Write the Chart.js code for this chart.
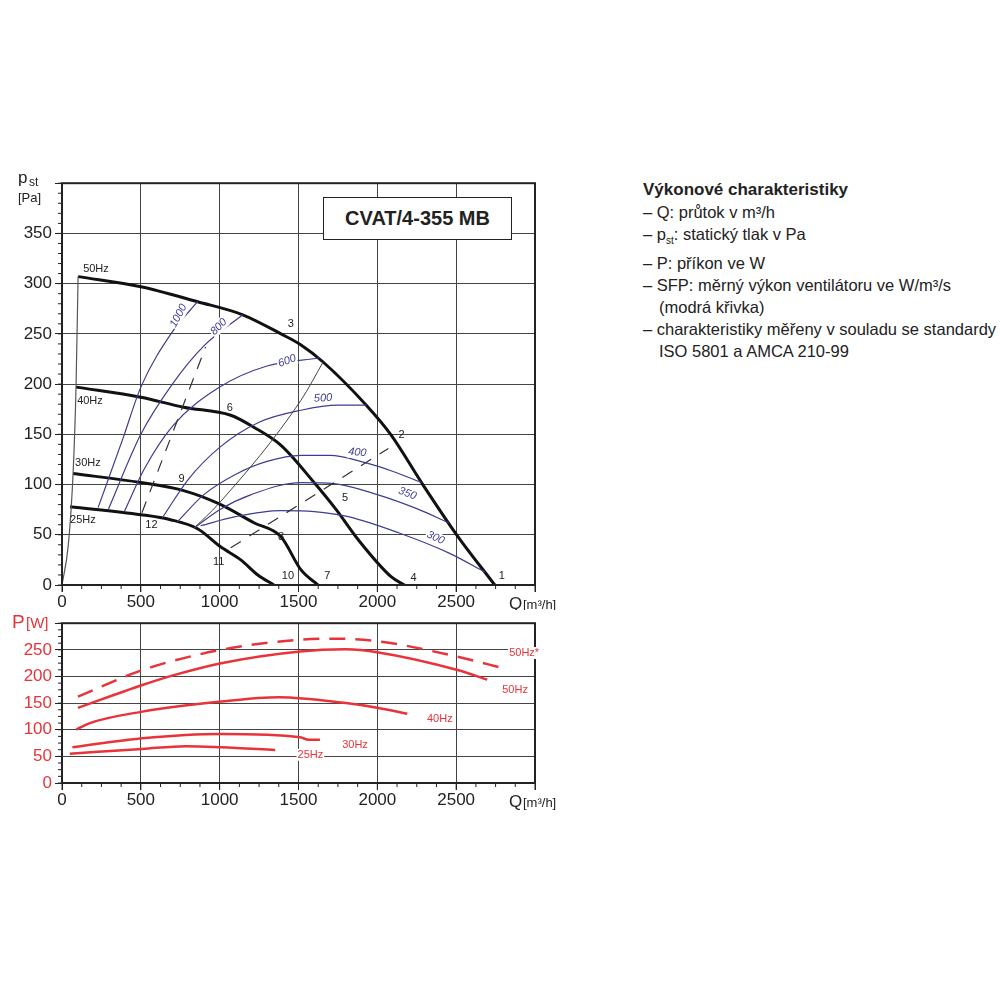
<!DOCTYPE html>
<html>
<head>
<meta charset="utf-8">
<script src="https://cdn.jsdelivr.net/npm/chart.js@4"></script>
<style>
  body { margin:0; background:#fff; font-family:"Liberation Sans", Arial, sans-serif; }
  .wrap { position:relative; width:1000px; height:1000px; }
  canvas { position:absolute; }
  #c1 { left:0; top:170px; }
  #c2 { left:0; top:610px; }
  .model { position:absolute; left:323px; top:197px; width:187px; height:41px; border:1.5px solid #222; background:#fff;
           font-weight:bold; font-size:20px; line-height:41px; text-align:center; color:#222; }
  .info { position:absolute; left:643px; top:178px; font-size:16.5px; color:#222; line-height:22px; }
  .info b { font-size:17px; }
  .info div { padding-left:16px; text-indent:-16px; }
</style>
</head>
<body>
<div class="wrap">
  <canvas id="c1" width="560" height="440" style="width:560px;height:440px"></canvas>
  <canvas id="c2" width="580" height="210" style="width:580px;height:210px"></canvas>
  <div class="model">CVAT/4-355 MB</div>
  <div class="info">
    <b>Výkonové charakteristiky</b>
    <div>– Q: průtok v m³/h</div>
    <div>– p<sub style="font-size:10px">st</sub>: statický tlak v Pa</div>
    <div>– P: příkon ve W</div>
    <div>– SFP: měrný výkon ventilátoru ve W/m³/s (modrá křivka)</div>
    <div>– charakteristiky měřeny v souladu se standardy ISO 5801 a AMCA 210-99</div>
  </div>
</div>
<script>
// pressure curves [Q m3/h, p Pa]
const p50 = [[102,307],[500,297],[860,282],[1146,269],[1389,250],[1516,239],[1656,222],[1930,179],[2089,149],[2280,102],[2503,50],[2745,0]];
const p40 = [[89,197],[500,187],[771,177],[1070,169],[1217,157],[1389,139],[1599,102],[1739,75],[1879,45],[2089,8],[2172,0]];
const p30 = [[70,111],[500,102],[771,94],[994,81],[1217,62],[1389,48],[1516,15],[1624,0]];
const p25 = [[51,78],[500,70],[688,65],[860,56],[1006,38],[1134,25],[1242,10],[1344,0]];
const minFlow = [[0,0],[40,40],[70,110],[89,197],[102,307]];
const sysLine = [[840,57],[994,81],[1516,184],[1656,222]];
const dash1 = [[507,72],[911,237]];
const dash2 = [[1070,37],[2070,136]];
// SFP curves
const sfp1000 = [[229,77],[389,147],[500,197],[700,252],[860,282]];
const sfp800 = [[293,75],[500,150],[700,200],[900,238],[1146,269]];
const sfp600 = [[395,73],[520,115],[700,158],[1000,197],[1300,218],[1630,226]];
const sfp500 = [[637,67],[800,105],[1000,137],[1250,162],[1516,174],[1750,179],[1930,179]];
const sfp400 = [[732,63],[900,90],[1100,110],[1300,123],[1516,129],[1700,129],[1917,122],[2100,113],[2280,102]];
const sfp350 = [[840,57],[1000,75],[1200,90],[1516,102],[1726,101],[2000,90],[2250,76],[2452,62]];
const sfp300 = [[879,59],[1100,68],[1389,74],[1600,73],[1815,68],[2134,52],[2452,32],[2682,13]];
// power curves [Q, W]
const w50s = [[101,162],[510,212],[1010,250],[1510,269],[1730,271],[2008,266],[2509,237],[2792,216]];
const w50 = [[101,141],[510,184],[715,203],[1010,225],[1510,247],[1800,251],[2008,245],[2509,212],[2697,194]];
const w40 = [[90,100],[172,112],[510,134],[1010,153],[1376,161],[1800,150],[2008,141],[2190,130]];
const w30 = [[66,67],[510,84],[1010,92],[1510,86],[1565,81],[1636,81]];
const w25 = [[50,55],[510,64],[786,69],[1010,67],[1352,62]];
const qTicks = [0,500,1000,1500,2000,2500];
// labels [text, Q, value, rotation deg, color-key]
const topLabels = [['50Hz',134,315,0,'k'],['40Hz',96,183,0,'k'],['30Hz',83,121,0,'k'],['25Hz',51,65,0,'k'],
  ['1',2790,9,0,'k'],['2',2153,149,0,'k'],['3',1452,260,0,'k'],['4',2229,7,0,'k'],['5',1796,87,0,'k'],['6',1064,176,0,'k'],
  ['7',1682,9,0,'k'],['8',1389,48,0,'k'],['9',758,106,0,'k'],['10',1433,9,0,'k'],['11',994,23,0,'k'],['12',567,60,0,'k'],
  ['1000',739,268,-62,'b'],['800',994,257,-45,'b'],['600',1427,223,-20,'b'],['500',1656,186,-3,'b'],
  ['400',1873,132,5,'b'],['350',2191,91,20,'b'],['300',2369,47,25,'b']];
const botLabels = [['50Hz*',2836,244],['50Hz',2792,174],['40Hz',2315,121],['30Hz',1777,71],['25Hz',1494,53]];

const BLUE = '#3d3d92', RED = '#e8333a', INK = '#222';
const pts = a => a.map(([x,y]) => ({x, y}));
const line = (a, color, w, dash) => ({ data: pts(a), borderColor: color, borderWidth: w, borderDash: dash || [],
  pointRadius: 0, showLine: true, fill: false, cubicInterpolationMode: 'monotone' });

function extras(labels, yTitle, yColor, minorY, labelColor) {
  return {
    id: 'extras',
    afterDatasetsDraw(chart) {
      const {ctx, chartArea: a, scales: {x, y}} = chart;
      ctx.save();
      ctx.strokeStyle = INK; ctx.lineWidth = 1;
      for (let q = 0; q <= 3000; q += 125) {
        const px = x.getPixelForValue(q);
        ctx.beginPath(); ctx.moveTo(px, a.bottom); ctx.lineTo(px, a.bottom + (q % 500 ? 4 : 7)); ctx.stroke();
      }
      for (let v = 0; v <= y.max; v += minorY) {
        const py = y.getPixelForValue(v);
        ctx.beginPath(); ctx.moveTo(a.left, py); ctx.lineTo(a.left - 4, py); ctx.stroke();
      }
      ctx.strokeStyle = INK; ctx.lineWidth = 2;
      ctx.strokeRect(a.left, a.top, a.right - a.left, a.bottom - a.top);
      ctx.textBaseline = 'middle';
      labels.forEach(([t, q, v, rot, c]) => {
        ctx.save();
        ctx.translate(x.getPixelForValue(q), y.getPixelForValue(v));
        ctx.rotate((rot || 0) * Math.PI / 180);
        ctx.font = (c === 'b' ? 'italic ' : '') + '11px "Liberation Sans", Arial';
        ctx.fillStyle = c === 'b' ? BLUE : (c === 'k' ? INK : labelColor);
        ctx.textAlign = t.endsWith('Hz') || t.endsWith('*') ? 'left' : 'center';
        if (c === 'b' || !c) { const w = ctx.measureText(t).width; ctx.fillStyle = '#fff';
          ctx.fillRect(ctx.textAlign === 'left' ? -1 : -w/2 - 1, -6, w + 2, 12);
          ctx.fillStyle = c === 'b' ? BLUE : labelColor; }
        ctx.fillText(t, 0, 0);
        ctx.restore();
      });
      // axis titles
      ctx.fillStyle = yColor; ctx.textAlign = 'left';
      yTitle(ctx, a);
      ctx.fillStyle = INK; ctx.font = '17px "Liberation Sans", Arial'; ctx.textBaseline = 'top';
      const qx = x.getPixelForValue(3000) - 26, qy = a.bottom + 11;
      ctx.fillText('Q', qx, qy);
      ctx.font = '13px "Liberation Sans", Arial';
      ctx.fillText('[m³/h]', qx + 14, qy + 3);
      ctx.restore();
    }
  };
}

function opts(yMax, yStep, yColor, xH, padTop, padRight, padBottom) {
  return {
    responsive: false, animation: false,
    layout: { padding: { top: padTop, right: padRight, left: 0, bottom: padBottom } },
    plugins: { legend: { display: false }, tooltip: { enabled: false } },
    scales: {
      x: { type: 'linear', min: 0, max: 3000,
        afterBuildTicks: s => { s.ticks = qTicks.concat([3000]).map(v => ({value: v})); },
        afterFit: s => { s.height = xH; },
        grid: { color: '#444', lineWidth: 1, drawTicks: true, tickLength: 7, tickColor: INK },
        border: { display: false },
        ticks: { color: INK, font: { size: 17, family: 'Liberation Sans' }, padding: 0, maxRotation: 0,
          callback: v => v === 3000 ? '' : v } },
      y: { min: 0, max: yMax,
        afterBuildTicks: s => { const t = []; for (let v = 0; v < yMax; v += yStep) t.push({value: v}); t.push({value: yMax}); s.ticks = t; },
        afterFit: s => { s.width = 62; },
        grid: { color: '#444', lineWidth: 1, drawTicks: true, tickLength: 7, tickColor: INK },
        border: { display: false },
        ticks: { color: yColor, font: { size: 17, family: 'Liberation Sans' }, padding: 3,
          callback: v => v === yMax ? '' : v } }
    }
  };
}

new Chart(document.getElementById('c1'), {
  type: 'scatter',
  data: { datasets: [
    line(minFlow, '#555', 1.2),
    line(sysLine, '#444', 1),
    line(dash1, '#333', 1.2, [12, 10]),
    line(dash2, '#333', 1.2, [12, 10]),
    line(sfp1000, BLUE, 1.2), line(sfp800, BLUE, 1.2), line(sfp600, BLUE, 1.2), line(sfp500, BLUE, 1.2),
    line(sfp400, BLUE, 1.2), line(sfp350, BLUE, 1.2), line(sfp300, BLUE, 1.2),
    line(p50, '#111', 3), line(p40, '#111', 3), line(p30, '#111', 3), line(p25, '#111', 3)
  ] },
  options: opts(400, 50, INK, 25, 13, 25, 0),
  plugins: [extras(topLabels, (ctx, a) => {
    ctx.font = '17px "Liberation Sans", Arial'; ctx.textBaseline = 'top';
    ctx.fillText('p', 18, 0);
    ctx.font = '12px "Liberation Sans", Arial'; ctx.fillText('st', 29, 7);
    ctx.font = '13px "Liberation Sans", Arial'; ctx.fillText('[Pa]', 18, 22);
  }, INK, 10, INK)]
});

new Chart(document.getElementById('c2'), {
  type: 'scatter',
  data: { datasets: [
    line(w50s, RED, 2.5, [16, 10]),
    line(w50, RED, 2.5), line(w40, RED, 2.5), line(w30, RED, 2.5), line(w25, RED, 2.5)
  ] },
  options: opts(300, 50, RED, 37, 13, 45, 0),
  plugins: [extras(botLabels, (ctx, a) => {
    ctx.font = '19px "Liberation Sans", Arial'; ctx.textBaseline = 'top';
    ctx.fillText('P', 12, 3);
    ctx.font = '15px "Liberation Sans", Arial'; ctx.fillText('[W]', 26, 6);
  }, RED, 12.5, RED)]
});
</script>
</body>
</html>
